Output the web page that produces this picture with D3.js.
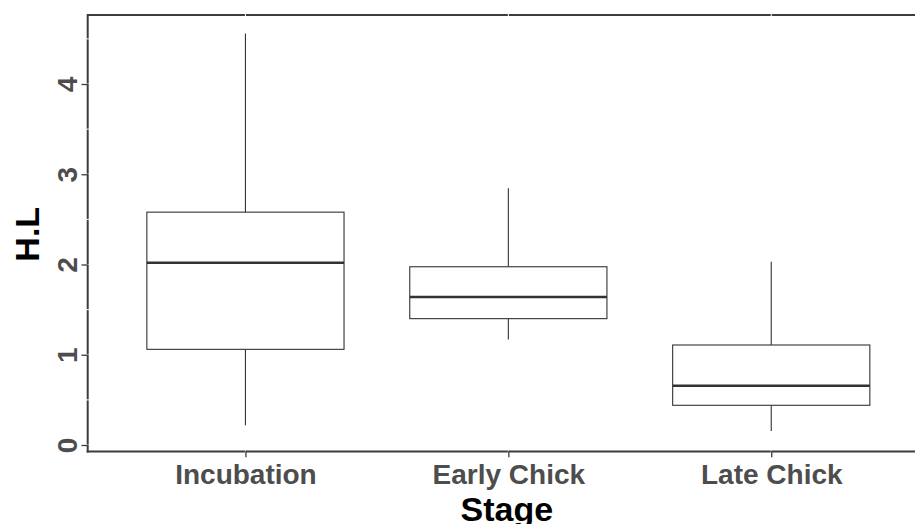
<!DOCTYPE html>
<html>
<head>
<meta charset="utf-8">
<script src="https://cdn.jsdelivr.net/npm/d3@7"></script>
<style>
  html, body { margin: 0; padding: 0; background: #ffffff; }
  svg { display: block; }
  text { font-family: "Liberation Sans", Arial, sans-serif; font-weight: bold; }
</style>
</head>
<body>
<script>
// ---- data ----
const categories = ["Incubation", "Early Chick", "Late Chick"];
const lowerWhisker = [0.22, 1.17, 0.155];
const q1 = [1.06, 1.40, 0.44];
const median = [2.02, 1.64, 0.657];
const q3 = [2.58, 1.975, 1.108];
const upperWhisker = [4.56, 2.845, 2.03];
const yTicks = [0, 1, 2, 3, 4];
const yMinor = [0.5, 1.5, 2.5, 3.5, 4.5];
const xTitle = "Stage";
const yTitle = "H.L";

const W = 915, H = 524;
const panel = { left: 87.7, right: 929, top: 15, bottom: 451.5 };

const svg = d3.select("body").append("svg").attr("width", W).attr("height", H);
svg.append("rect").attr("width", W).attr("height", H).attr("fill", "#fff");

const x = d3.scalePoint().domain(categories).range([panel.left, panel.right]).padding(0.6);
const y = d3.scaleLinear().domain([0, 4]).range([445, 84]);

const boxes = categories.map((c, i) => ({
  cat: c, lo: lowerWhisker[i], q1: q1[i], med: median[i], q3: q3[i], hi: upperWhisker[i]
}));

const axisCol = "#3c3c3c";
// panel lines (left axis, bottom axis, top border)
svg.append("line").attr("x1", panel.left).attr("x2", panel.left)
  .attr("y1", panel.top - 1).attr("y2", panel.bottom + 1)
  .attr("stroke", axisCol).attr("stroke-width", 2);
svg.append("line").attr("x1", panel.left).attr("x2", panel.right)
  .attr("y1", panel.top).attr("y2", panel.top)
  .attr("stroke", axisCol).attr("stroke-width", 2);
svg.append("line").attr("x1", panel.left - 1).attr("x2", panel.right)
  .attr("y1", panel.bottom).attr("y2", panel.bottom)
  .attr("stroke", axisCol).attr("stroke-width", 2);

// white gridlines (only visible where they cross the panel lines)
const grid = svg.append("g").attr("stroke", "#fff").attr("stroke-width", 1);
grid.selectAll("line.hy").data(yMinor.concat(yTicks)).join("line")
  .attr("x1", panel.left - 1.5).attr("x2", panel.right)
  .attr("y1", d => y(d)).attr("y2", d => y(d));
grid.selectAll("line.vx").data(categories).join("line")
  .attr("x1", d => x(d)).attr("x2", d => x(d))
  .attr("y1", panel.top - 1.5).attr("y2", panel.bottom + 1.5);

// axes via d3 axis generators
const yAxis = svg.append("g").attr("transform", `translate(${panel.left + 0.8},0)`)
  .call(d3.axisLeft(y).tickValues(yTicks).tickSize(7).tickPadding(5).tickFormat(d3.format("d")));
yAxis.select(".domain").remove();
yAxis.selectAll(".tick line").attr("stroke", axisCol).attr("stroke-width", 1.3);
yAxis.selectAll(".tick text")
  .attr("fill", "#4d4d4d").attr("font-size", 28)
  .attr("transform", function(d) { return `rotate(-90,-11.5,0)`; })
  .attr("x", -11.5).attr("y", 0).attr("dy", 0)
  .attr("text-anchor", "middle")
  .attr("font-family", "Liberation Sans, Arial, sans-serif").attr("font-weight", "bold");

const xAxis = svg.append("g").attr("transform", `translate(0,${panel.bottom - 0.8})`)
  .call(d3.axisBottom(x).tickSize(6.5).tickPadding(5));
xAxis.select(".domain").remove();
xAxis.selectAll(".tick line").attr("stroke", axisCol).attr("stroke-width", 1.3);
xAxis.selectAll(".tick text")
  .attr("fill", "#4d4d4d").attr("font-size", 28)
  .attr("y", 33.5).attr("dy", 0)
  .attr("font-family", "Liberation Sans, Arial, sans-serif").attr("font-weight", "bold");

// boxplots
const boxCol = "#333333";
const bw = x.step() * 0.75;
const g = svg.append("g");
const bx = g.selectAll("g.box").data(boxes).join("g");
bx.append("line").attr("x1", d => x(d.cat)).attr("x2", d => x(d.cat))
  .attr("y1", d => y(d.hi)).attr("y2", d => y(d.q3))
  .attr("stroke", boxCol).attr("stroke-width", 1.1);
bx.append("line").attr("x1", d => x(d.cat)).attr("x2", d => x(d.cat))
  .attr("y1", d => y(d.q1)).attr("y2", d => y(d.lo))
  .attr("stroke", boxCol).attr("stroke-width", 1.1);
bx.append("rect").attr("x", d => x(d.cat) - bw / 2).attr("width", bw)
  .attr("y", d => y(d.q3)).attr("height", d => y(d.q1) - y(d.q3))
  .attr("fill", "#fff").attr("stroke", boxCol).attr("stroke-width", 1.1);
bx.append("line").attr("x1", d => x(d.cat) - bw / 2).attr("x2", d => x(d.cat) + bw / 2)
  .attr("y1", d => y(d.med)).attr("y2", d => y(d.med))
  .attr("stroke", boxCol).attr("stroke-width", 2.6);

// titles
svg.append("text").attr("x", (panel.left + panel.right) / 2 - 1.5).attr("y", 521)
  .attr("text-anchor", "middle").attr("font-size", 34).attr("fill", "#000").text(xTitle);
svg.append("text").attr("transform", `translate(39,${(panel.top + panel.bottom) / 2 + 1}) rotate(-90)`)
  .attr("text-anchor", "middle").attr("font-size", 34).attr("fill", "#000").text(yTitle);
</script>
</body>
</html>
